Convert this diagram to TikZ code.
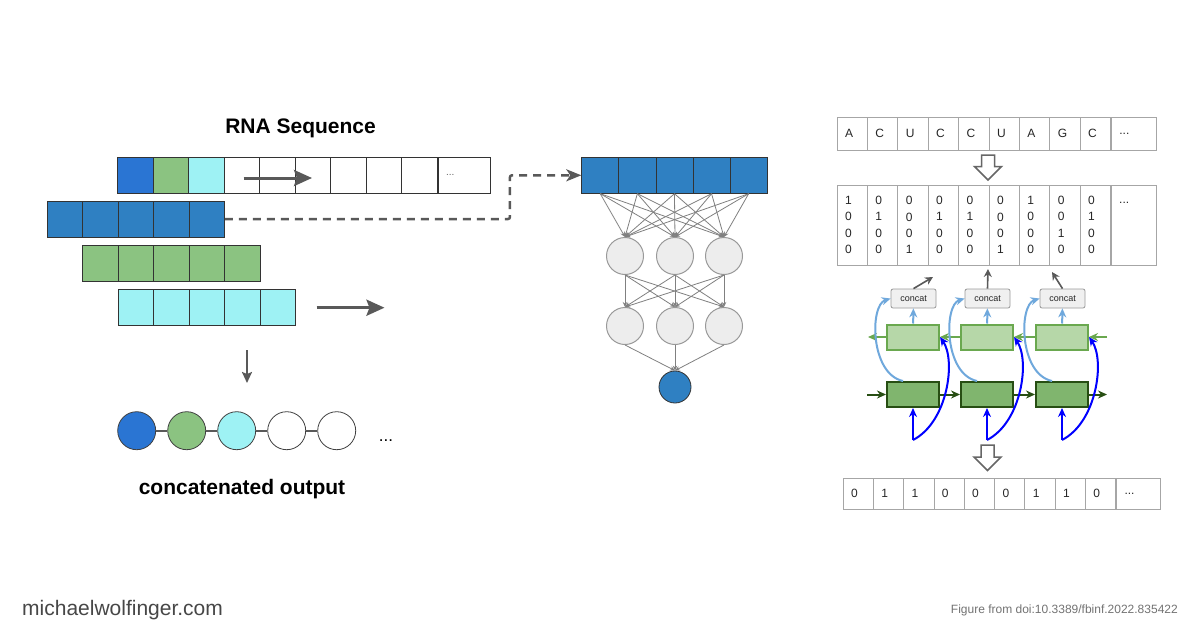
\documentclass[tikz,border=0pt]{standalone}
\usepackage{fontspec}
\setmainfont{Liberation Sans}
\usepackage{tikz}
\usetikzlibrary{positioning}
\usetikzlibrary{arrows.meta}

\definecolor{seqblue}{HTML}{2A75D3}
\definecolor{winblue}{HTML}{2F80C2}
\definecolor{seqgreen}{HTML}{8BC381}
\definecolor{seqcyan}{HTML}{9EF2F4}
\definecolor{arrgray}{HTML}{595959}
\definecolor{fwdgreen}{HTML}{274E13}
\definecolor{bwdgreen}{HTML}{6AA84F}
\definecolor{fwdfill}{HTML}{80B56E}
\definecolor{bwdfill}{HTML}{B6D7A8}
\definecolor{skyblue}{HTML}{6FA8DC}

\begin{document}
\begin{tikzpicture}[x=1pt, y=-1pt,
    cell/.style={draw=black!80, line width=0.8pt, minimum width=35.5pt, minimum height=36pt, inner sep=0pt},
    bead/.style={circle, draw=black!75, line width=0.8pt, minimum size=38pt, inner sep=0pt},
    neuron/.style={circle, draw=black!40, fill=black!7, line width=1pt, minimum size=37pt, inner sep=0pt},
    netedge/.style={draw=black!50, line width=0.8pt, -{Stealth[length=5pt,width=4.5pt]}},
    bigarrow/.style={draw=arrgray, line width=3pt, -{Stealth[length=18pt,width=16pt,inset=3pt]}},
    dasharrow/.style={draw=arrgray, line width=2.5pt, dash pattern=on 8pt off 6pt, rounded corners=2pt, -{Stealth[length=15pt,width=12pt,inset=4pt]}},
    seqcell/.style={draw=black!35, line width=0.8pt, minimum height=33pt, inner xsep=8pt, inner ysep=0pt, text width=14.4pt, align=left, text=black!85, font=\fontsize{12}{14}\selectfont},
    hotcell/.style={seqcell, minimum height=80pt, font=\fontsize{12}{16.3}\selectfont},
    hollow/.style={draw=black!60, fill=white, line width=1.5pt, line join=miter},
    fwdcell/.style={draw=fwdgreen, fill=fwdfill, line width=2pt, minimum width=52pt, minimum height=25pt, inner sep=0pt},
    bwdcell/.style={draw=bwdgreen, fill=bwdfill, line width=2pt, minimum width=52pt, minimum height=25pt, inner sep=0pt},
    concatbox/.style={draw=black!40, fill=black!6, line width=0.8pt, rounded corners=2pt, minimum width=45pt, minimum height=19pt, inner sep=0pt, text=black!85, font=\fontsize{9}{10}\selectfont},
    fwdarrow/.style={draw=fwdgreen, line width=2pt, -{Stealth[length=9pt,width=8pt]}},
    bwdarrow/.style={draw=bwdgreen, line width=2pt, -{Stealth[length=9pt,width=8pt]}},
    skyarrow/.style={draw=skyblue, line width=2pt, -{Stealth[length=9pt,width=8pt]}},
    bluearrow/.style={draw=blue, line width=2pt, -{Stealth[length=9pt,width=8pt]}},
    grayarrow/.style={draw=black!65, line width=1.6pt, -{Stealth[length=8pt,width=8pt]}}]
    \fill[white] (0,0) rectangle (1200,627);
    \useasboundingbox (0,0) rectangle (1200,627);

    \node[anchor=base, font=\bfseries\fontsize{21}{25}\selectfont] (title) at (300.6,133.3) {RNA Sequence};
    \foreach \c [count=\i from 0] in {seqblue,seqgreen,seqcyan,white,white,white,white,white,white}
        \node[cell, fill=\c] (s\i) at (135.6+35.5*\i,175.3) {};
    \node[cell, fill=white, anchor=west, text width=36.6pt, inner xsep=8pt, align=left, text=black!60, font=\fontsize{10}{12}\selectfont] (s9) at (s8.east) {...};
    \foreach \i in {0,...,4} {
        \node[cell, fill=winblue] (w\i) at (64.8+35.5*\i,219) {};
        \node[cell, fill=seqgreen] (v\i) at (100.3+35.5*\i,263.3) {};
        \node[cell, fill=seqcyan] (u\i) at (135.8+35.5*\i,307.7) {};
    }
    \coordinate (sa) at (243.5,178);
    \coordinate (sb) at (312,178);
    \draw[bigarrow] (sa) -- (sb);
    \coordinate (ua) at (316.7,307.7);
    \coordinate (ub) at (384.5,307.7);
    \draw[bigarrow] (ua) -- (ub);

    \coordinate (da) at (247,350);
    \coordinate (db) at (247,383);
    \draw[draw=arrgray, line width=2pt, -{Stealth[length=11pt,width=10pt,inset=2pt]}] (da) -- (db);
    \foreach \c [count=\i from 0] in {seqblue,seqgreen,seqcyan,white,white}
        \node[bead, fill=\c] (c\i) at (136.7+50*\i,430.7) {};
    \draw[arrgray, line width=2pt] (c0) -- (c1) -- (c2) -- (c3) -- (c4);
    \node[anchor=base, font=\fontsize{17}{20}\selectfont] (cdots) at (386,441) {...};
    \node[anchor=base, font=\bfseries\fontsize{21}{24}\selectfont] (caption) at (242,494) {concatenated output};

    \foreach \i in {0,...,4}
        \node[cell, fill=winblue, minimum width=37.1pt] (b\i) at (600.25+37.1*\i,175.3) {};
    \draw[dasharrow] (w4.east) -- ++(285,0) |- (b0.west);
    \foreach \x [count=\i] in {625,675,724} {
        \node[neuron] (h\i) at (\x,256) {};
        \node[neuron] (g\i) at (\x,326) {};
    }
    \node[circle, draw=black!80, fill=winblue, line width=0.8pt, minimum size=32pt, inner sep=0pt] (out) at (675,387) {};
    \foreach \i in {0,...,4}
        \foreach \j in {1,2,3}
            \draw[netedge] (b\i.south) -- (h\j.north);
    \foreach \i in {1,2,3}
        \foreach \j in {1,2,3}
            \draw[netedge] (h\i.south) -- (g\j.north);
    \foreach \i in {1,2,3}
        \draw[netedge] (g\i.south) -- (out.north);

    \foreach \b [count=\i from 0] in {A,C,U,C,C,U,A,G,C}
        \node[seqcell] (n\i) at (852.2+30.4*\i,133.5) {\b};
    \node[seqcell, text width=29pt, anchor=west] (n9) at (n8.east) {...};
    \draw[hollow] (988,155) ++(-6.5,0) -- ++(13,0) -- ++(0,11.5) -- ++(7,0) -- ++(-13.5,13.5) -- ++(-13.5,-13.5) -- ++(7,0) -- cycle;
    \foreach \a/\b/\c/\d [count=\i from 0] in {1/0/0/0,0/1/0/0,0/0/0/1,0/1/0/0,0/1/0/0,0/0/0/1,1/0/0/0,0/0/1/0,0/1/0/0}
        \node[hotcell] (o\i) at (852.2+30.4*\i,225) {\a\\\b\\\c\\\d};
    \node[hotcell, text width=29pt, anchor=west] (o9) at (o8.east) {};
    \node[anchor=west, inner sep=0pt, text=black!85, font=\fontsize{12}{14}\selectfont] (odots) at ([xshift=8pt,yshift=-18pt]o9.north west) {...};

    \foreach \x [count=\i] in {913,987,1062} {
        \node[fwdcell] (f\i) at (\x,394.5) {};
        \node[bwdcell] (r\i) at (\x,337) {};
        \node[concatbox] (k\i) at (\x+0.5,298.5) {concat};
        \coordinate (p\i) at (\x,440);
    }
    \coordinate (fin) at (867,394.5);
    \coordinate (fout) at (1107,394.5);
    \draw[fwdarrow] (fin) -- (f1);
    \draw[fwdarrow] (f1) -- (f2);
    \draw[fwdarrow] (f2) -- (f3);
    \draw[fwdarrow] (f3) -- (fout);
    \coordinate (rin) at (1107,337);
    \coordinate (rout) at (868,337);
    \draw[bwdarrow] (rin) -- (r3);
    \draw[bwdarrow] (r3) -- (r2);
    \draw[bwdarrow] (r2) -- (r1);
    \draw[bwdarrow] (r1) -- (rout);
    \foreach \i in {1,2,3} {
        \draw[skyarrow] (r\i) -- (k\i);
        \draw[skyarrow] ([xshift=-10pt]f\i.north) .. controls +(-33,-7) and +(-21,6.5) .. (k\i.west);
        \draw[bluearrow] (p\i) -- (f\i);
        \draw[bluearrow] (p\i) .. controls +(35,-18) and +(16,23) .. (r\i.east);
    }
    \coordinate (q1) at (933,277);
    \coordinate (q2) at (988,269);
    \coordinate (q3) at (1052,272);
    \draw[grayarrow] (k1.north) -- (q1);
    \draw[grayarrow] (k2.north) -- (q2);
    \draw[grayarrow] (k3.north) -- (q3);

    \draw[hollow] (987.5,445) ++(-6.5,0) -- ++(13,0) -- ++(0,12) -- ++(7,0) -- ++(-13.5,13.5) -- ++(-13.5,-13.5) -- ++(7,0) -- cycle;
    \foreach \b [count=\i from 0] in {0,1,1,0,0,0,1,1,0}
        \node[seqcell, minimum height=31pt, text width=14.3pt] (m\i) at (858.15+30.3*\i,493.5) {\b};
    \node[seqcell, minimum height=31pt, text width=28pt, anchor=west] (m9) at (m8.east) {...};

    \node[anchor=base west, inner sep=0pt, text=black!72, font=\fontsize{21}{24}\selectfont] (site) at (22,615) {michaelwolfinger.com};
    \node[anchor=base east, inner sep=0pt, text=black!55, font=\fontsize{12}{14}\selectfont] (credit) at (1178,613) {Figure from doi:10.3389/fbinf.2022.835422};
\end{tikzpicture}
\end{document}
